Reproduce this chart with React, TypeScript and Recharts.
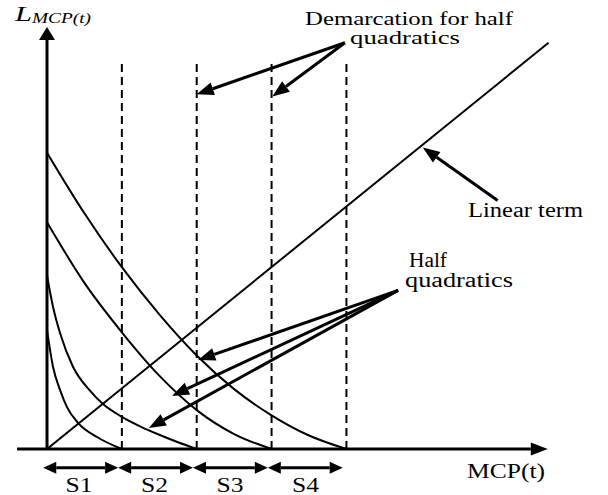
import { ComposedChart, Line, XAxis, YAxis, ReferenceLine } from "recharts";

// x in "segment" units (each S section is 1 wide), y in the same scale
const curve1 = [
  { x: 0, y: 1.59 },
  { x: 0.08, y: 1.1 },
  { x: 0.174, y: 0.79 },
  { x: 0.267, y: 0.56 },
  { x: 0.414, y: 0.35 },
  { x: 0.668, y: 0.16 },
  { x: 1.0, y: 0 },
];
const curve2 = [
  { x: 0, y: 2.32 },
  { x: 0.08, y: 1.9 },
  { x: 0.174, y: 1.55 },
  { x: 0.347, y: 1.1 },
  { x: 0.574, y: 0.78 },
  { x: 0.748, y: 0.6 },
  { x: 1.0, y: 0.43 },
  { x: 1.25, y: 0.3 },
  { x: 1.5, y: 0.19 },
  { x: 1.75, y: 0.09 },
  { x: 2.0, y: 0 },
];
const curve3 = [
  { x: 0, y: 3.03 },
  { x: 0.5, y: 2.22 },
  { x: 1.0, y: 1.56 },
  { x: 1.5, y: 0.98 },
  { x: 2.0, y: 0.52 },
  { x: 2.5, y: 0.2 },
  { x: 3.0, y: 0 },
];
const curve4 = [
  { x: 0, y: 3.96 },
  { x: 0.5, y: 3.15 },
  { x: 1.0, y: 2.43 },
  { x: 1.5, y: 1.8 },
  { x: 2.0, y: 1.25 },
  { x: 2.5, y: 0.8 },
  { x: 3.0, y: 0.45 },
  { x: 3.5, y: 0.18 },
  { x: 4.0, y: 0 },
];
const linearTerm = [
  { x: 0, y: 0 },
  { x: 6.7, y: 5.43 },
];
const halfQuadratics = [curve1, curve2, curve3, curve4];

const demarcations = [1, 2, 3, 4];
const demarcationTop = 5.19;

// annotation arrows: [from, to] in data units
const demarcationArrows = [
  [{ x: 3.98, y: 5.43 }, { x: 2.0, y: 4.74 }],
  [{ x: 3.98, y: 5.43 }, { x: 3.01, y: 4.71 }],
];
const quadraticArrows = [
  [{ x: 4.69, y: 2.12 }, { x: 2.02, y: 1.19 }],
  [{ x: 4.69, y: 2.12 }, { x: 1.67, y: 0.71 }],
  [{ x: 4.69, y: 2.12 }, { x: 1.36, y: 0.28 }],
];
const linearArrow = [{ x: 6.02, y: 3.32 }, { x: 5.02, y: 4.03 }];

const sections = ["S1", "S2", "S3", "S4"];
const sectionLevel = -0.25;

const serif = "'Liberation Serif', 'Times New Roman', serif";

function headPoints(ax: number, ay: number, bx: number, by: number, len: number, wid: number) {
  const d = Math.hypot(bx - ax, by - ay) || 1;
  const ux = (bx - ax) / d;
  const uy = (by - ay) / d;
  const cx = bx - ux * len;
  const cy = by - uy * len;
  const px = (-uy * wid) / 2;
  const py = (ux * wid) / 2;
  return {
    pts: `${bx},${by} ${cx + px},${cy + py} ${cx - px},${cy - py}`,
    cx,
    cy,
  };
}

function arrow(len: number, wid: number, sw: number, both = false) {
  return (p: any) => {
    const { x1, y1, x2, y2 } = p;
    const end = headPoints(x1, y1, x2, y2, len, wid);
    const start = both ? headPoints(x2, y2, x1, y1, len, wid) : null;
    return (
      <g>
        <line
          x1={start ? start.cx : x1}
          y1={start ? start.cy : y1}
          x2={end.cx}
          y2={end.cy}
          stroke="#000"
          strokeWidth={sw}
        />
        <polygon points={end.pts} fill="#000" />
        {start && <polygon points={start.pts} fill="#000" />}
      </g>
    );
  };
}

export default function App() {
  return (
    <div style={{ position: "absolute", left: 0, top: 0, width: 608, height: 495, background: "#fff" }}>
      <ComposedChart
        width={608}
        height={495}
        margin={{ top: 30, right: 37, bottom: 46, left: 47 }}
      >
        <XAxis type="number" dataKey="x" domain={[0, 7]} allowDataOverflow hide />
        <YAxis type="number" dataKey="y" domain={[0, 5.6]} allowDataOverflow hide />

        {demarcations.map((d) => (
          <ReferenceLine
            key={d}
            segment={[{ x: d, y: 0 }, { x: d, y: demarcationTop }]}
            stroke="#000"
            strokeWidth={2}
            strokeDasharray="8 5"
            ifOverflow="visible"
          />
        ))}

        {halfQuadratics.map((c, i) => (
          <Line
            key={i}
            data={c}
            dataKey="y"
            type="monotone"
            stroke="#000"
            strokeWidth={2}
            dot={false}
            activeDot={false}
            isAnimationActive={false}
          />
        ))}
        <Line
          data={linearTerm}
          dataKey="y"
          type="linear"
          stroke="#000"
          strokeWidth={2}
          dot={false}
          activeDot={false}
          isAnimationActive={false}
        />

        {/* axes */}
        <ReferenceLine
          segment={[{ x: -0.4, y: 0 }, { x: 6.69, y: 0 }]}
          ifOverflow="visible"
          shape={arrow(17, 13, 3)}
        />
        <ReferenceLine
          segment={[{ x: 0, y: 0 }, { x: 0, y: 5.64 }]}
          ifOverflow="visible"
          shape={arrow(13, 16, 3)}
        />

        {[...demarcationArrows, ...quadraticArrows, linearArrow].map((a, i) => (
          <ReferenceLine key={"a" + i} segment={a} ifOverflow="visible" shape={arrow(17, 13, 3)} />
        ))}

        {sections.map((s, i) => (
          <ReferenceLine
            key={s}
            segment={[{ x: i - 0.05, y: sectionLevel }, { x: i + 0.95, y: sectionLevel }]}
            ifOverflow="visible"
            shape={arrow(13, 12, 3, true)}
          />
        ))}

        <g fontFamily={serif} fill="#000">
          <text x={15} y={21} fontSize={22} fontStyle="italic" textLength={17} lengthAdjust="spacingAndGlyphs">
            L
          </text>
          <text x={32} y={23} fontSize={15} fontStyle="italic" textLength={59} lengthAdjust="spacingAndGlyphs">
            MCP(t)
          </text>
          <text x={305} y={25} fontSize={19} textLength={208} lengthAdjust="spacingAndGlyphs">
            Demarcation for half
          </text>
          <text x={350} y={44} fontSize={19} textLength={110} lengthAdjust="spacingAndGlyphs">
            quadratics
          </text>
          <text x={468} y={217} fontSize={20} textLength={115} lengthAdjust="spacingAndGlyphs">
            Linear term
          </text>
          <text x={409} y={267} fontSize={20} textLength={38} lengthAdjust="spacingAndGlyphs">
            Half
          </text>
          <text x={405} y={287} fontSize={20} textLength={108} lengthAdjust="spacingAndGlyphs">
            quadratics
          </text>
          <text x={467} y={478} fontSize={20} textLength={78} lengthAdjust="spacingAndGlyphs">
            MCP(t)
          </text>
          {sections.map((s, i) => (
            <text
              key={s}
              x={79 + i * 75.5}
              y={492}
              fontSize={20}
              textAnchor="middle"
              textLength={27}
              lengthAdjust="spacingAndGlyphs"
            >
              {s}
            </text>
          ))}
        </g>
      </ComposedChart>
    </div>
  );
}
